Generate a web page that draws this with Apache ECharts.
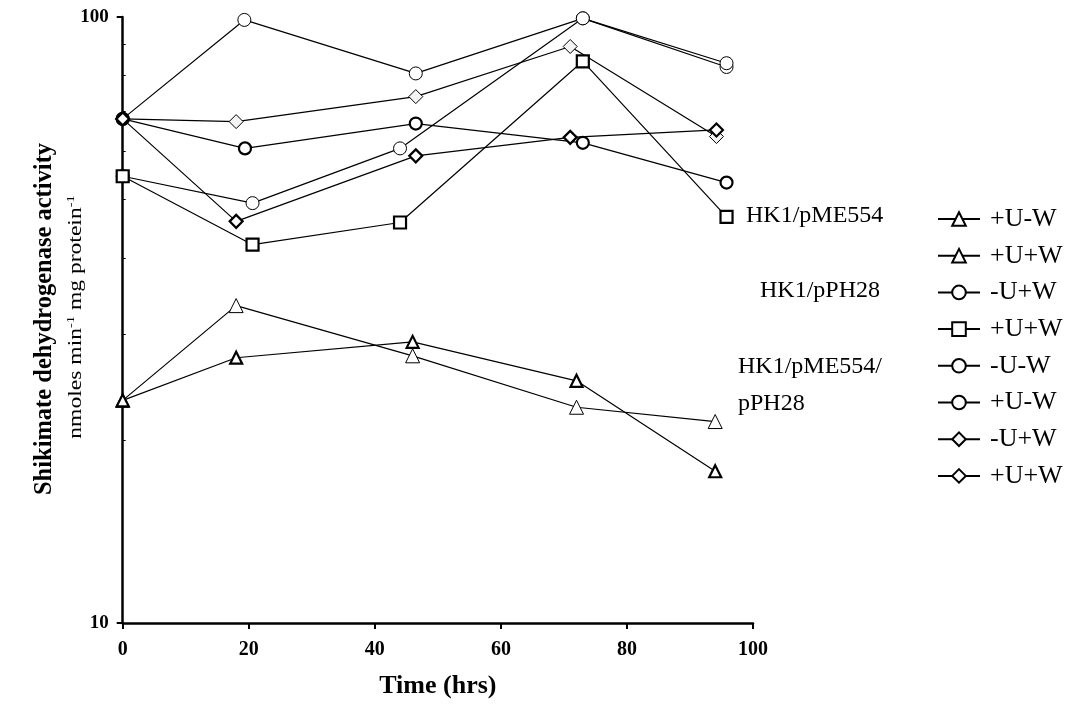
<!DOCTYPE html>
<html><head><meta charset="utf-8">
<script src="https://cdn.jsdelivr.net/npm/echarts@6/dist/echarts.min.js"></script>
<style>html,body{margin:0;padding:0;background:#fff}#c{width:1078px;height:716px}</style>
</head><body><div id="c"></div>
<script>
// ---- data ----
const xTickInterval = 20;
const yMinorTickValues = [20, 30, 40, 50, 60, 70, 80, 90];
const legendLabels = ['+U-W', '+U+W', '-U+W', '+U+W', '-U-W', '+U-W', '-U+W', '+U+W'];
const groupLabels = ['HK1/pME554', 'HK1/pPH28', 'HK1/pME554/', 'pPH28'];

// HK1/pME554/pPH28
const triOpen_t = [0, 18, 46, 72, 94];
const triOpen_v = [23.3, 33.4, 27.6, 22.7, 21.5];
const triBold_t = [0, 18, 46, 72, 94];
const triBold_v = [23.3, 27.4, 29.1, 25.1, 17.8];
// HK1/pME554
const circA_t = [0, 20.6, 44, 73, 95.8];
const circA_v = [54.6, 49.3, 60.7, 99.5, 82.7];
const square_t = [0, 20.6, 44, 73, 95.8];
const square_v = [54.6, 42.1, 45.8, 84.5, 46.8];
// HK1/pPH28
const circB_t = [0, 19.3, 46.5, 73, 95.8];
const circB_v = [67.9, 98.9, 80.7, 99.5, 83.9];
const circBold_t = [0, 19.4, 46.5, 73, 95.8];
const circBold_v = [67.9, 60.7, 66.7, 62.0, 53.3];
const diaOpen_t = [0, 18, 46.5, 71, 94.2];
const diaOpen_v = [67.9, 67.2, 73.9, 89.4, 63.5];
const diaBold_t = [0, 18, 46.5, 71, 94.2];
const diaBold_v = [67.9, 46.0, 59.0, 63.3, 65.1];

// ---- chart ----
const SERIF = "'Liberation Serif', 'DejaVu Serif', serif";
function pairs(ts, vs) { return ts.map((t, i) => [t, vs[i]]); }
function mk(id, ts, vs, symbol, size, bold, fill) {
  return {
    type: 'line', name: id, data: pairs(ts, vs),
    symbol: symbol, symbolSize: size, showSymbol: true,
    lineStyle: { color: '#000', width: 1.2 },
    itemStyle: { color: fill || '#fff', borderColor: '#000', borderWidth: bold ? 2.2 : 1 },
    emphasis: { disabled: true }, silent: true, z: 3
  };
}
const series = [
  mk('s0', triOpen_t, triOpen_v, 'triangle', 14, false),
  mk('s1', triBold_t, triBold_v, 'triangle', 12, true),
  mk('s2', circA_t, circA_v, 'circle', 13, false),
  mk('s3', square_t, square_v, 'rect', 12, true),
  mk('s4', circB_t, circB_v, 'circle', 13, false),
  mk('s5', circBold_t, circBold_v, 'circle', 12, true),
  mk('s6', diaOpen_t, diaOpen_v, 'diamond', 14, false, '#f4f4f4'),
  mk('s7', diaBold_t, diaBold_v, 'diamond', 13, true)
];
const idToLabel = {};
series.forEach((s, i) => { idToLabel[s.name] = legendLabels[i]; });

const chart = echarts.init(document.getElementById('c'), null, { renderer: 'canvas' });
chart.setOption({
  animation: false,
  backgroundColor: '#fff',
  grid: { left: 122.7, right: 325, top: 17, bottom: 93, containLabel: false },
  xAxis: {
    type: 'value', min: 0, max: 100, interval: xTickInterval,
    axisLine: { show: true, lineStyle: { color: '#000', width: 2.5 } },
    axisTick: { show: true, inside: false, length: 6, lineStyle: { color: '#000', width: 2 } },
    splitLine: { show: false },
    axisLabel: { color: '#000', fontFamily: SERIF, fontWeight: 'bold', fontSize: 20, margin: 17 },
    name: 'Time (hrs)', nameLocation: 'middle', nameGap: 50,
    nameTextStyle: { color: '#000', fontFamily: SERIF, fontWeight: 'bold', fontSize: 26 }
  },
  yAxis: [{
    type: 'log', logBase: 10, min: 10, max: 100,
    axisLine: { show: true, onZero: false, lineStyle: { color: '#000', width: 2.5 } },
    axisTick: { show: true, inside: false, length: 6, lineStyle: { color: '#000', width: 2 } },
    splitLine: { show: false },
    axisLabel: { color: '#000', fontFamily: SERIF, fontWeight: 'bold', fontSize: 19, margin: 14 }
  }, {
    type: 'value', min: 1, max: 2, position: 'left', offset: 0,
    axisLine: { show: false },
    axisTick: { show: true, inside: true, length: 3, lineStyle: { color: '#000', width: 1 },
      customValues: yMinorTickValues.map(v => Math.log10(v)) },
    axisLabel: { show: false },
    splitLine: { show: false }
  }],
  legend: {
    orient: 'vertical', left: 932, top: 201, itemWidth: 42, itemHeight: 17, itemGap: 10.7,
    selectedMode: false,
    formatter: function (n) { return idToLabel[n]; },
    textStyle: { color: '#000', fontFamily: SERIF, fontSize: 26, lineHeight: 26, padding: [0, 0, 0, 5] },
    data: series.map(s => s.name)
  },
  graphic: [
    { type: 'text', left: 746, top: 217 - 13, style: { text: groupLabels[0], font: '24px ' + SERIF, fill: '#000' } },
    { type: 'text', left: 760, top: 292 - 13, style: { text: groupLabels[1], font: '24px ' + SERIF, fill: '#000' } },
    { type: 'text', left: 738, top: 368 - 13, style: { text: groupLabels[2], font: '24px ' + SERIF, fill: '#000' } },
    { type: 'text', left: 738, top: 405 - 13, style: { text: groupLabels[3], font: '24px ' + SERIF, fill: '#000' } },
    { type: 'text', x: 45, y: 319, rotation: Math.PI / 2,
      style: { text: 'Shikimate dehydrogenase activity', font: 'bold 24.5px ' + SERIF, fill: '#000', align: 'center', verticalAlign: 'middle' } },
    { type: 'text', x: 76, y: 317, rotation: Math.PI / 2, scaleX: 1.31,
      style: { text: '{a|nmoles min}{s|-1}{a| mg protein}{s|-1}', align: 'center', verticalAlign: 'middle', fill: '#000',
        rich: { a: { fontFamily: SERIF, fontSize: 18, fill: '#000' }, s: { fontFamily: SERIF, fontSize: 11, verticalAlign: 'top', padding: [0, 0, 9, 0] } } } }
  ],
  series: series
});
</script></body></html>
